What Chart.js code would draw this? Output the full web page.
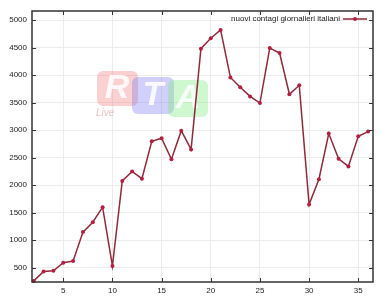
<!DOCTYPE html>
<html><head><meta charset="utf-8">
<script src="https://cdn.jsdelivr.net/npm/chart.js@4/dist/chart.umd.min.js"></script>
<style>html,body{margin:0;padding:0;background:#fff}#wrap{width:387px;height:300px}</style>
</head><body><div id="wrap"><canvas id="c" width="387" height="300"></canvas></div>
<script>
const days = [2,3,4,5,6,7,8,9,10,11,12,13,14,15,16,17,18,19,20,21,22,23,24,25,26,27,28,29,30,31,32,33,34,35,36];
const newCases = [258,428,443,590,620,1145,1326,1598,529,2076,2249,2116,2795,2853,2470,2989,2648,4480,4670,4821,3957,3780,3612,3491,4492,4401,3651,3815,1648,2107,2937,2477,2339,2886,2972];
const xTicks = [5,10,15,20,25,30,35];
const yTicks = [500,1000,1500,2000,2500,3000,3500,4000,4500,5000];
const seriesLabel = 'nuovi contagi giornalieri italiani';

const FONT = 'Liberation Sans';
const lineColor = '#8e2a3a';
const markColor = '#b3203f';

const framePlugin = {
  id: 'frame',
  beforeDatasetsDraw(chart) {
    const {ctx} = chart;
    ctx.save();
    function rr(x, y, w, h, r, col) {
      ctx.fillStyle = col;
      ctx.beginPath();
      ctx.roundRect(x, y, w, h, r);
      ctx.fill();
    }
    rr(97, 71, 41, 35, 6, 'rgba(240,120,120,0.35)');
    rr(132, 77, 42, 37, 6, 'rgba(120,120,240,0.35)');
    rr(168, 80, 40, 37, 6, 'rgba(120,235,120,0.35)');
    ctx.fillStyle = 'rgba(255,255,255,0.85)';
    ctx.font = 'italic bold 34px ' + FONT;
    ctx.textAlign = 'center';
    ctx.textBaseline = 'middle';
    ctx.fillText('R', 117, 89);
    ctx.fillText('T', 153, 96);
    ctx.fillText('A', 188, 99);
    ctx.fillStyle = 'rgba(230,150,150,0.6)';
    ctx.font = 'italic 10px ' + FONT;
    ctx.textAlign = 'left';
    ctx.fillText('Live', 96, 113);
    ctx.restore();
  },
  afterDraw(chart) {
    const {ctx, chartArea: a, scales} = chart;
    ctx.save();
    ctx.strokeStyle = '#333';
    ctx.lineWidth = 1;
    ctx.beginPath();
    for (const t of scales.x.ticks) {
      const px = Math.round(scales.x.getPixelForValue(t.value)) + 0.5;
      ctx.moveTo(px, a.bottom); ctx.lineTo(px, a.bottom - 4);
      ctx.moveTo(px, a.top); ctx.lineTo(px, a.top + 4);
    }
    for (const t of scales.y.ticks) {
      const py = Math.round(scales.y.getPixelForValue(t.value)) + 0.5;
      ctx.moveTo(a.left, py); ctx.lineTo(a.left + 4, py);
      ctx.moveTo(a.right, py); ctx.lineTo(a.right - 4, py);
    }
    ctx.stroke();
    ctx.lineWidth = 1.5;
    ctx.strokeRect(a.left, a.top, a.right - a.left, a.bottom - a.top);
    ctx.font = '8px ' + FONT;
    ctx.fillStyle = '#222';
    ctx.textAlign = 'right';
    ctx.textBaseline = 'middle';
    ctx.fillText(seriesLabel, 340, 19);
    ctx.strokeStyle = lineColor;
    ctx.lineWidth = 1.5;
    ctx.beginPath(); ctx.moveTo(343, 19); ctx.lineTo(367, 19); ctx.stroke();
    ctx.fillStyle = markColor;
    ctx.beginPath(); ctx.arc(355, 19, 2, 0, Math.PI * 2); ctx.fill();
    ctx.restore();
  }
};

new Chart(document.getElementById('c'), {
  type: 'line',
  data: {
    datasets: [{
      label: seriesLabel,
      data: days.map((d, i) => ({x: d, y: newCases[i]})),
      borderColor: lineColor,
      borderWidth: 1.5,
      pointRadius: 2,
      pointBackgroundColor: markColor,
      pointBorderColor: markColor,
      pointBorderWidth: 0,
      tension: 0,
      clip: false
    }]
  },
  options: {
    responsive: false,
    animation: false,
    devicePixelRatio: 1,
    layout: {padding: {top: 11, right: 14, left: 0, bottom: 0}},
    plugins: {legend: {display: false}, tooltip: {enabled: false}},
    scales: {
      x: {
        type: 'linear', min: 1.82, max: 36.5,
        afterBuildTicks(s) { s.ticks = xTicks.map(v => ({value: v})); },
        afterFit(s) { s.height = 18; },
        grid: {color: '#ececec', lineWidth: 1, drawTicks: false},
        border: {display: false},
        ticks: {font: {family: FONT, size: 8}, color: '#222', padding: 4, maxRotation: 0, callback: v => String(v)}
      },
      y: {
        type: 'linear', min: 238, max: 5165,
        afterBuildTicks(s) { s.ticks = yTicks.map(v => ({value: v})); },
        afterFit(s) { s.width = 32; },
        grid: {color: '#ececec', lineWidth: 1, drawTicks: false},
        border: {display: false},
        ticks: {font: {family: FONT, size: 8}, color: '#222', padding: 5, callback: v => String(v)}
      }
    }
  },
  plugins: [framePlugin]
});
</script>
</body></html>
